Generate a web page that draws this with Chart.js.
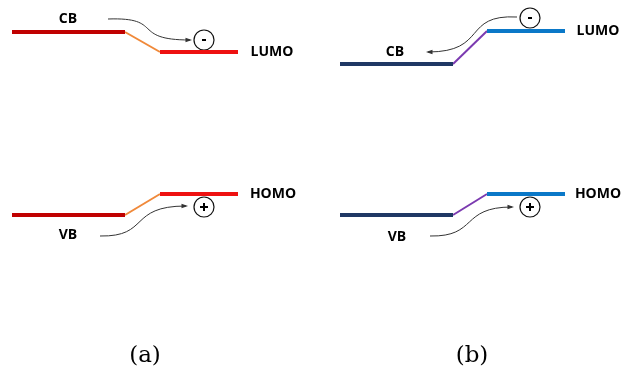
<!DOCTYPE html>
<html>
<head>
<meta charset="utf-8">
<title>Band alignment</title>
<script src="https://cdn.jsdelivr.net/npm/chart.js@4.4.1/dist/chart.umd.min.js"></script>
<style>
  html, body { margin: 0; padding: 0; background: #fff; }
  canvas { display: block; }
</style>
</head>
<body>
<canvas id="band-chart" width="623" height="374"></canvas>
<script>
// Band alignment diagrams
// ------------------------------
// Diagram units: x runs left to right, y runs top to bottom (0..374)
var panels = ["(a)", "(b)"];
var panelLabelX = [145, 472];
var panelLabelY = 356;

// semiconductor bands (left) and molecule levels (right), per panel
var leftX = [[12, 125], [340, 453]];
var rightX = [[160, 238], [487, 565]];
var cbLevel = [32, 64];
var lumoLevel = [52, 31];
var vbLevel = [215, 215];
var homoLevel = [194, 194];

var bandColor = ["#C00000", "#1F3864"];
var levelColor = ["#EE1111", "#0A78C8"];
var linkColor = ["#F0893A", "#7B3AB0"];

// charge carriers: electron near LUMO, hole near HOMO
var electronPos = [[204, 40], [530, 18]];
var holePos = [[204, 207], [530, 207]];

// level labels: [text, x, y]
var levelText = [
    [["CB", 68, 19], ["LUMO", 272, 52], ["VB", 68, 235], ["HOMO", 273, 194]],
    [["CB", 395, 52], ["LUMO", 598, 31], ["VB", 397, 237], ["HOMO", 598, 194]]
];

// transfer arrows: start, control 1, control 2, end
var transferArrows = [
    [[108, 19], [165, 17], [130, 40], [190, 40]],
    [[100, 236], [150, 237], [128, 206], [186, 206]],
    [[517, 17], [462, 14], [488, 52], [428, 52]],
    [[430, 236], [478, 237], [460, 207], [512, 207]]
];

window.addEventListener("load", function () {

    var ctx = document.getElementById("band-chart");

    var datasets = [];
    panels.forEach(function (p, i) {
        function seg(x0, y0, x1, y1, color, width) {
            datasets.push({
                data: [{ x: x0, y: y0 }, { x: x1, y: y1 }],
                showLine: true,
                borderColor: color,
                borderWidth: width,
                borderCapStyle: "butt",
                pointRadius: 0
            });
        }
        // top pair
        seg(leftX[i][0], cbLevel[i], leftX[i][1], cbLevel[i], bandColor[i], 4);
        seg(rightX[i][0], lumoLevel[i], rightX[i][1], lumoLevel[i], levelColor[i], 4);
        seg(leftX[i][1], cbLevel[i], rightX[i][0], lumoLevel[i], linkColor[i], 2);
        // bottom pair
        seg(leftX[i][0], vbLevel[i], leftX[i][1], vbLevel[i], bandColor[i], 4);
        seg(rightX[i][0], homoLevel[i], rightX[i][1], homoLevel[i], levelColor[i], 4);
        seg(leftX[i][1], vbLevel[i], rightX[i][0], homoLevel[i], linkColor[i], 2);
    });

    // electrons and holes as circles
    var carriers = electronPos.concat(holePos).map(function (p) {
        return { x: p[0], y: p[1] };
    });
    datasets.push({
        data: carriers,
        pointRadius: 10,
        pointBackgroundColor: "#fff",
        pointBorderColor: "#111",
        pointBorderWidth: 1.2
    });

    var annotations = {
        id: "annotations",
        afterDatasetsDraw: function (chart) {
            var c = chart.ctx;
            var xs = chart.scales.x, ys = chart.scales.y;
            function px(p) { return [xs.getPixelForValue(p[0]), ys.getPixelForValue(p[1])]; }

            c.save();
            // arrows
            c.strokeStyle = "#333";
            c.fillStyle = "#333";
            c.lineWidth = 1;
            transferArrows.forEach(function (a) {
                var s = px(a[0]), c1 = px(a[1]), c2 = px(a[2]), e = px(a[3]);
                c.beginPath();
                c.moveTo(s[0], s[1]);
                c.bezierCurveTo(c1[0], c1[1], c2[0], c2[1], e[0], e[1]);
                c.stroke();
                var ang = Math.atan2(e[1] - c2[1], e[0] - c2[0]);
                c.beginPath();
                c.moveTo(e[0] + 2 * Math.cos(ang), e[1] + 2 * Math.sin(ang));
                c.lineTo(e[0] - 5 * Math.cos(ang - 0.45), e[1] - 5 * Math.sin(ang - 0.45));
                c.lineTo(e[0] - 5 * Math.cos(ang + 0.45), e[1] - 5 * Math.sin(ang + 0.45));
                c.closePath();
                c.fill();
            });

            // charge signs
            c.fillStyle = "#000";
            electronPos.forEach(function (p) {
                var q = px(p);
                c.fillRect(q[0] - 2, q[1] - 1, 4, 2);
            });
            holePos.forEach(function (p) {
                var q = px(p);
                c.fillRect(q[0] - 4, q[1] - 1, 8, 2);
                c.fillRect(q[0] - 1, q[1] - 4, 2, 8);
            });

            // level labels
            c.textAlign = "center";
            c.textBaseline = "middle";
            c.font = "bold 14px 'Open Sans'";
            levelText.forEach(function (list) {
                list.forEach(function (t) {
                    var q = px([t[1], t[2]]);
                    c.fillText(t[0], q[0], q[1]);
                });
            });

            // panel captions
            c.font = "23px 'DejaVu Serif'";
            panels.forEach(function (p, i) {
                var q = px([panelLabelX[i], panelLabelY]);
                c.fillText(p, q[0], q[1]);
            });
            c.restore();
        }
    };

    var config = {
        type: "scatter",
        data: { datasets: datasets },
        options: {
            responsive: false,
            animation: false,
            layout: { padding: 0, autoPadding: false },
            plugins: { legend: { display: false }, tooltip: { enabled: false } },
            scales: {
                x: { type: "linear", min: 0, max: 623, display: false },
                y: { type: "linear", min: 0, max: 374, reverse: true, display: false }
            }
        },
        plugins: [annotations]
    };

    var bandChart = new Chart(ctx, config);
});
</script>
</body>
</html>
